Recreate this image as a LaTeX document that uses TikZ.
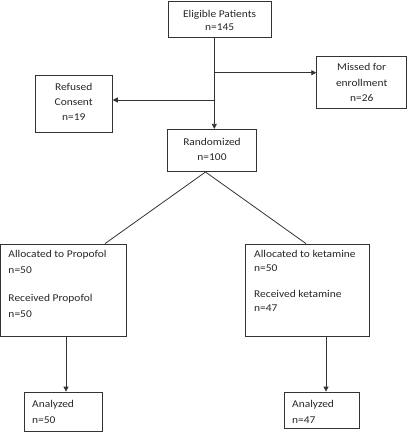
\documentclass[tikz,border=0pt]{standalone}
\usepackage{fontspec}
\setmainfont{Carlito}[FakeStretch=1.1]
\usetikzlibrary{arrows.meta}
\definecolor{ln}{HTML}{333333}
\tikzset{
  box/.style={draw=ln, line width=0.8pt, rectangle, inner sep=0pt},
  lab/.style={inner sep=0pt, anchor=base, font=\fontsize{10.4}{13}\selectfont, text=black!85},
  labl/.style={lab, anchor=base west},
  conn/.style={draw=ln, line width=0.8pt},
  arr/.style={conn, -{Triangle[length=5pt,width=5pt]}}
}
\begin{document}
\begin{tikzpicture}[x=1pt,y=-1pt]
\useasboundingbox (0,0) rectangle (408,432);
% boxes
\node[box, minimum width=102.7pt, minimum height=36.7pt] (elig) at (219.6,19.3) {};
\node[box, minimum width=77.3pt, minimum height=57.7pt] (ref) at (73.7,103.9) {};
\node[box, minimum width=90pt, minimum height=51.6pt] (miss) at (361.7,82.5) {};
\node[box, minimum width=89.4pt, minimum height=42.4pt] (rand) at (212,150.5) {};
\node[box, minimum width=125.4pt, minimum height=92.5pt] (prop) at (63.3,290.25) {};
\node[box, minimum width=124pt, minimum height=92.5pt] (ket) at (307,290.25) {};
\node[box, minimum width=78pt, minimum height=39pt] (anl) at (63,411.5) {};
\node[box, minimum width=75pt, minimum height=36pt] (anr) at (321.5,410) {};
% centred texts
\node[lab] (e1) at (219.6,17) {Eligible Patients};
\node[lab] (e2) at (219.6,30) {n=145};
\node[lab] (r1) at (73.7,90) {Refused};
\node[lab] (r2) at (73.7,105) {Consent};
\node[lab] (r3) at (73.7,120) {n=19};
\node[lab] (m1) at (361.7,70.7) {Missed for};
\node[lab] (m2) at (361.7,86.7) {enrollment};
\node[lab] (m3) at (361.7,101.7) {n=26};
\node[lab] (d1) at (212,145) {Randomized};
\node[lab] (d2) at (212,160) {n=100};
% left-aligned texts
\node[labl] (p1) at (8.3,257.7) {Allocated to Propofol};
\node[labl] (p2) at (8.3,273.7) {n=50};
\node[labl] (p3) at (8.3,301) {Received Propofol};
\node[labl] (p4) at (8.3,317.3) {n=50};
\node[labl] (k1) at (254,257.7) {Allocated to ketamine};
\node[labl] (k2) at (254,271.7) {n=50};
\node[labl] (k3) at (254,297.7) {Received ketamine};
\node[labl] (k4) at (254,311.7) {n=47};
\node[labl] (a1) at (32,407) {Analyzed};
\node[labl] (a2) at (32,423) {n=50};
\node[labl] (b1) at (292,407) {Analyzed};
\node[labl] (b2) at (292,423) {n=47};
% helper coordinates
\coordinate (tx) at (214.3,0);
\coordinate (bm) at (214.3,72.7);
\coordinate (br) at (214.3,100);
\coordinate (split) at (205.5,172);
\coordinate (pl) at (105,0);
\coordinate (pr) at (306,0);
\coordinate (dl) at (66,0);
\coordinate (dr) at (326,0);
% connectors
\draw[arr] (elig.south -| tx) -- (rand.north -| tx);
\draw[arr] (bm) -- (bm -| miss.west);
\draw[arr] (br) -- (br -| ref.east);
\draw[conn] (split) -- (prop.north -| pl);
\draw[conn] (split) -- (ket.north -| pr);
\draw[arr] (prop.south -| dl) -- (anl.north -| dl);
\draw[arr] (ket.south -| dr) -- (anr.north -| dr);
\end{tikzpicture}
\end{document}
